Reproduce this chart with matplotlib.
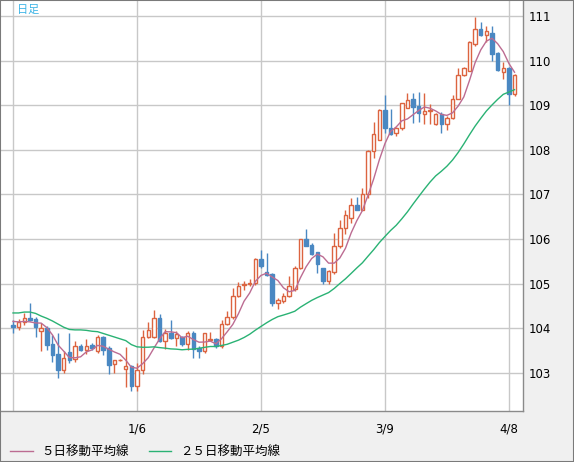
import numpy as np
import pandas as pd
import matplotlib
matplotlib.use("Agg")
import matplotlib.pyplot as plt
from matplotlib.patches import Rectangle

# daily candles, Dec 7 -> Apr 9 (USD/JPY style)
opens = [104.06,104.02,104.13,104.22,104.20,103.93,104.00,103.65,103.42,103.05,
         103.47,103.30,103.60,103.50,103.61,103.48,103.80,103.55,103.20,103.28,
         103.08,103.15,102.70,103.07,103.80,103.80,104.22,103.72,103.90,103.78,
         103.80,103.65,103.90,103.55,103.48,103.73,103.75,103.60,104.10,104.25,
         104.73,104.96,104.98,105.02,105.55,105.27,105.22,104.57,104.60,104.73,
         104.87,105.35,105.99,105.87,105.70,105.35,105.05,105.25,105.84,106.24,
         106.46,106.76,106.66,107.00,107.97,108.23,108.90,108.48,108.38,108.48,
         108.95,109.13,108.98,108.81,108.88,108.57,108.81,108.59,108.72,109.15,
         109.68,109.78,110.37,110.71,110.58,110.62,110.17,109.75,109.83,109.25]
highs = [104.19,104.20,104.34,104.56,104.26,104.11,104.04,103.85,103.89,103.48,
         103.89,103.70,103.64,103.75,103.66,103.85,103.83,103.59,103.29,103.31,
         103.58,103.18,103.22,103.96,104.13,104.40,104.32,103.98,104.19,103.93,
         103.83,103.93,103.93,103.59,103.90,103.91,103.78,104.19,104.38,104.91,
         105.03,105.05,105.10,105.57,105.76,105.69,105.24,104.67,104.78,105.16,
         105.39,106.00,106.22,105.90,105.70,105.35,105.31,106.13,106.43,106.64,
         106.91,106.94,107.14,107.99,108.63,108.92,109.22,108.91,108.52,109.06,
         109.28,109.28,109.30,109.28,109.04,108.83,108.86,108.77,109.22,109.83,
         109.85,110.45,110.97,110.86,110.78,110.78,110.19,109.97,109.85,109.70]
lows = [103.90,103.96,104.07,104.15,103.81,103.49,103.51,103.25,102.87,102.99,
        103.22,103.25,103.48,103.42,103.50,103.44,103.40,102.96,102.99,103.27,
        102.68,102.58,102.58,102.96,103.78,103.78,103.68,103.53,103.76,103.59,
        103.59,103.52,103.33,103.33,103.45,103.70,103.55,103.55,104.08,104.21,
        104.70,104.86,104.94,104.96,105.35,105.16,104.50,104.42,104.56,104.70,
        104.83,105.33,105.84,105.65,105.24,104.98,104.98,105.22,105.80,106.12,
        106.35,106.65,106.65,106.93,107.81,108.22,108.37,108.33,108.31,108.44,
        108.93,108.60,108.63,108.59,108.59,108.55,108.38,108.44,108.70,109.13,
        109.65,109.76,110.33,110.56,110.41,110.00,109.78,109.60,109.00,109.21]
closes = [104.02,104.13,104.22,104.19,104.02,104.00,103.63,103.40,103.05,103.33,
          103.29,103.60,103.51,103.60,103.55,103.80,103.50,103.18,103.29,103.29,
          103.15,102.70,103.07,103.80,103.96,104.22,103.72,103.90,103.78,103.87,
          103.65,103.89,103.53,103.48,103.89,103.75,103.59,104.10,104.25,104.72,
          104.95,105.00,105.02,105.55,105.39,105.20,104.57,104.63,104.73,104.95,
          105.35,105.99,105.85,105.67,105.44,105.05,105.28,105.85,106.25,106.53,
          106.76,106.65,107.00,107.97,108.35,108.90,108.48,108.36,108.48,109.04,
          109.11,108.96,108.83,108.87,108.90,108.81,108.57,108.72,109.15,109.67,
          109.83,110.41,110.72,110.58,110.66,110.15,109.80,109.83,109.25,109.68]

# moving averages at the left edge need older days, read them off the chart
ma5_head = [104.15, 104.14, 104.15, 104.14]
ma25_head = [104.34, 104.34, 104.36, 104.36, 104.33, 104.27, 104.22, 104.16,
             104.09, 104.02, 103.97, 103.96, 103.96, 103.95, 103.93, 103.92,
             103.88, 103.84, 103.80, 103.76, 103.72, 103.63, 103.58, 103.57]

tick_pos = [0, 22, 44, 66, 88]
tick_labels = ["", "1/6", "2/5", "3/9", "4/8"]
y_ticks = [103, 104, 105, 106, 107, 108, 109, 110, 111]

up_col = "#dc6440"
down_col = "#4a88c2"
ma5_col = "#bc6c92"
ma25_col = "#2ab274"
grid_col = "#c8c8c8"

df = pd.DataFrame({"o": opens, "h": highs, "l": lows, "c": closes})
ma5 = df["c"].rolling(5).mean().values
ma5[:4] = ma5_head
ma25 = df["c"].rolling(25).mean().values
ma25[:24] = ma25_head

x = np.arange(len(df))
up = (df["c"] >= df["o"]).values

fig = plt.figure(figsize=(5.74, 4.62), dpi=100, facecolor="#f0f0f0")
ax = fig.add_axes([1/574, 1 - 411/462, 522/574, 410/462])
ax.set_facecolor("white")

# wicks
ax.vlines(x[up], df["l"].values[up], df["h"].values[up], color=up_col, lw=1, zorder=2)
ax.vlines(x[~up], df["l"].values[~up], df["h"].values[~up], color=down_col, lw=1, zorder=2)

# bodies
body_bot = np.minimum(df["o"].values, df["c"].values)
body_h = np.abs(df["c"].values - df["o"].values)
ax.bar(x[up], body_h[up], bottom=body_bot[up], width=0.62,
       facecolor="white", edgecolor=up_col, lw=1, zorder=3)
ax.bar(x[~up], body_h[~up], bottom=body_bot[~up], width=0.62,
       facecolor=down_col, edgecolor=down_col, lw=1, zorder=3)

l5, = ax.plot(x, ma5, color=ma5_col, lw=1, zorder=4)
l25, = ax.plot(x, ma25, color=ma25_col, lw=1, zorder=4)

ax.set_xlim(-2.13, 90.5)
ax.set_ylim(102.14, 111.34)
ax.set_xticks(tick_pos)
ax.set_xticklabels(tick_labels)
ax.set_yticks(y_ticks)
ax.yaxis.tick_right()
ax.tick_params(axis="both", length=0, labelsize=8.5, colors="black")
ax.tick_params(axis="x", pad=8)
ax.tick_params(axis="y", pad=4)
ax.grid(True, color=grid_col, lw=1)
ax.set_axisbelow(True)
for s in ["left", "top"]:
    ax.spines[s].set_visible(False)
for s in ["right", "bottom"]:
    ax.spines[s].set_color("#8a8a8a")
    ax.spines[s].set_linewidth(1)

jp = ["Noto Sans CJK JP", "DejaVu Sans"]
fig.text(17/574, 1 - 10/462, "日足", color="#3cb4e6", fontsize=8,
         family=jp, va="center", ha="left")

leg = fig.legend([l5, l25], ["５日移動平均線", "２５日移動平均線"],
                 loc="center left", bbox_to_anchor=(10/574, 1 - 452/462),
                 ncol=2, frameon=False, handlelength=1.8, handletextpad=0.7,
                 columnspacing=1.6, borderpad=0, borderaxespad=0,
                 prop={"family": jp, "size": 9})

fig.add_artist(Rectangle((0, 0), 1, 1, transform=fig.transFigure,
                         fill=False, edgecolor="#7a7a7a", lw=1.5))

fig.savefig("out.png", dpi=100, facecolor=fig.get_facecolor())
